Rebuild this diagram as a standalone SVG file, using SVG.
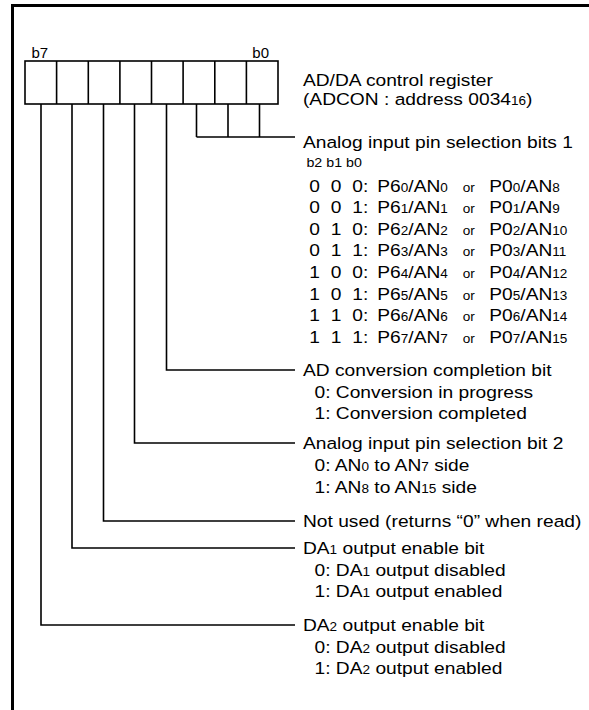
<svg xmlns="http://www.w3.org/2000/svg" width="589" height="710" viewBox="0 0 589 710">
<style>
text{font-family:"Liberation Sans",Arial,Helvetica,sans-serif;fill:#000}
.t{font-size:17px}
.s{font-size:12px}
.o{font-size:12px}
.h{font-size:12.6px}
.bl{font-size:15px}
.cell{fill:#fff;stroke:#000;stroke-width:1.6}
.ln{fill:none;stroke:#000;stroke-width:1.6}
.frame{fill:none;stroke:#000;stroke-width:3}
</style>
<rect width="589" height="710" fill="#fff"/>
<path class="frame" d="M12.5,710 V5.5 H589"/>

<g id="register">
  <text class="bl" x="31.5" y="58.3">b7</text>
  <text class="bl" x="252.3" y="58.3">b0</text>
  <rect class="cell" x="25" y="61" width="253" height="43"/>
  <path class="ln" d="M56.6,61V104 M88.3,61V104 M119.9,61V104 M151.5,61V104 M183.1,61V104 M214.8,61V104 M246.4,61V104"/>
</g>

<g id="connectors">
  <path class="ln" d="M196.5,104V137 M228,104V137 M259.5,104V137 M196.5,137H295"/>
  <path class="ln" d="M166.5,104V370H295"/>
  <path class="ln" d="M134.5,104V443H295"/>
  <path class="ln" d="M103.5,104V521H295"/>
  <path class="ln" d="M72,104V548H295"/>
  <path class="ln" d="M41,104V625H295"/>
</g>

<g transform="scale(1.13,1)">
  <g id="title">
    <text class="t" x="268.1" y="86.5">AD/DA control register</text>
    <text class="t" x="268.1" y="105">(ADCON : address 0034<tspan class="s">16</tspan>)</text>
  </g>
  <g id="field-b2-b0">
    <text class="t" x="268.1" y="148">Analog input pin selection bits 1</text>
    <text class="h" x="271.2" y="167">b2 b1 b0</text>
    <text class="t" y="191.7"><tspan x="273.7">0</tspan><tspan x="292.6">0</tspan><tspan x="311.8">0:</tspan><tspan x="333.9">P6<tspan class="s">0</tspan>/AN<tspan class="s">0</tspan></tspan><tspan class="o" x="409.5">or</tspan><tspan x="433">P0<tspan class="s">0</tspan>/AN<tspan class="s">8</tspan></tspan></text>
    <text class="t" y="213.3"><tspan x="273.7">0</tspan><tspan x="292.6">0</tspan><tspan x="311.8">1:</tspan><tspan x="333.9">P6<tspan class="s">1</tspan>/AN<tspan class="s">1</tspan></tspan><tspan class="o" x="409.5">or</tspan><tspan x="433">P0<tspan class="s">1</tspan>/AN<tspan class="s">9</tspan></tspan></text>
    <text class="t" y="234.9"><tspan x="273.7">0</tspan><tspan x="292.6">1</tspan><tspan x="311.8">0:</tspan><tspan x="333.9">P6<tspan class="s">2</tspan>/AN<tspan class="s">2</tspan></tspan><tspan class="o" x="409.5">or</tspan><tspan x="433">P0<tspan class="s">2</tspan>/AN<tspan class="s">10</tspan></tspan></text>
    <text class="t" y="256.5"><tspan x="273.7">0</tspan><tspan x="292.6">1</tspan><tspan x="311.8">1:</tspan><tspan x="333.9">P6<tspan class="s">3</tspan>/AN<tspan class="s">3</tspan></tspan><tspan class="o" x="409.5">or</tspan><tspan x="433">P0<tspan class="s">3</tspan>/AN<tspan class="s">11</tspan></tspan></text>
    <text class="t" y="278.1"><tspan x="273.7">1</tspan><tspan x="292.6">0</tspan><tspan x="311.8">0:</tspan><tspan x="333.9">P6<tspan class="s">4</tspan>/AN<tspan class="s">4</tspan></tspan><tspan class="o" x="409.5">or</tspan><tspan x="433">P0<tspan class="s">4</tspan>/AN<tspan class="s">12</tspan></tspan></text>
    <text class="t" y="299.7"><tspan x="273.7">1</tspan><tspan x="292.6">0</tspan><tspan x="311.8">1:</tspan><tspan x="333.9">P6<tspan class="s">5</tspan>/AN<tspan class="s">5</tspan></tspan><tspan class="o" x="409.5">or</tspan><tspan x="433">P0<tspan class="s">5</tspan>/AN<tspan class="s">13</tspan></tspan></text>
    <text class="t" y="321.3"><tspan x="273.7">1</tspan><tspan x="292.6">1</tspan><tspan x="311.8">0:</tspan><tspan x="333.9">P6<tspan class="s">6</tspan>/AN<tspan class="s">6</tspan></tspan><tspan class="o" x="409.5">or</tspan><tspan x="433">P0<tspan class="s">6</tspan>/AN<tspan class="s">14</tspan></tspan></text>
    <text class="t" y="342.9"><tspan x="273.7">1</tspan><tspan x="292.6">1</tspan><tspan x="311.8">1:</tspan><tspan x="333.9">P6<tspan class="s">7</tspan>/AN<tspan class="s">7</tspan></tspan><tspan class="o" x="409.5">or</tspan><tspan x="433">P0<tspan class="s">7</tspan>/AN<tspan class="s">15</tspan></tspan></text>
  </g>
  <g id="field-b3">
    <text class="t" x="268.1" y="376">AD conversion completion bit</text>
    <text class="t" x="278.3" y="397.6">0: Conversion in progress</text>
    <text class="t" x="278.3" y="419.2">1: Conversion completed</text>
  </g>
  <g id="field-b4">
    <text class="t" x="268.1" y="449.3">Analog input pin selection bit 2</text>
    <text class="t" x="278.3" y="471">0: AN<tspan class="s">0</tspan> to AN<tspan class="s">7</tspan> side</text>
    <text class="t" x="278.3" y="492.6">1: AN<tspan class="s">8</tspan> to AN<tspan class="s">15</tspan> side</text>
  </g>
  <g id="field-b5">
    <text class="t" x="268.1" y="527">Not used (returns “0” when read)</text>
  </g>
  <g id="field-b6">
    <text class="t" x="268.1" y="554.3">DA<tspan class="s">1</tspan> output enable bit</text>
    <text class="t" x="278.3" y="575.9">0: DA<tspan class="s">1</tspan> output disabled</text>
    <text class="t" x="278.3" y="597.5">1: DA<tspan class="s">1</tspan> output enabled</text>
  </g>
  <g id="field-b7">
    <text class="t" x="268.1" y="631">DA<tspan class="s">2</tspan> output enable bit</text>
    <text class="t" x="278.3" y="652.6">0: DA<tspan class="s">2</tspan> output disabled</text>
    <text class="t" x="278.3" y="674.2">1: DA<tspan class="s">2</tspan> output enabled</text>
  </g>
</g>
</svg>
